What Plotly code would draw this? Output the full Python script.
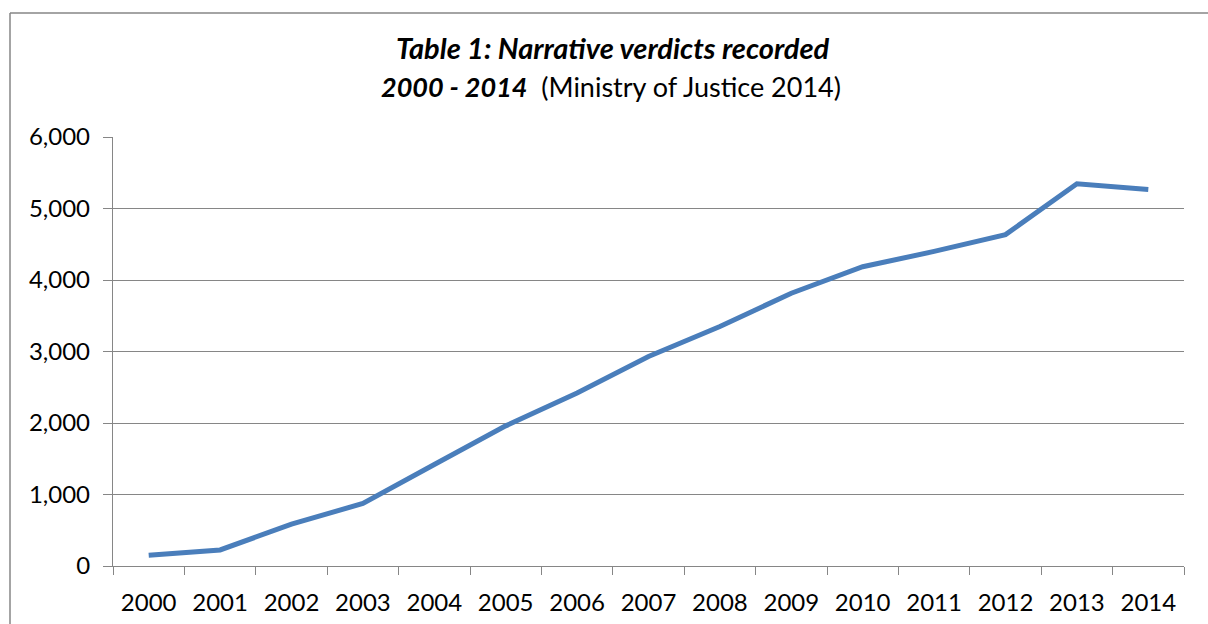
import plotly.graph_objects as go

years = ["2000", "2001", "2002", "2003", "2004", "2005", "2006", "2007",
         "2008", "2009", "2010", "2011", "2012", "2013", "2014"]
verdicts = [150, 225, 585, 875, 1420, 1960, 2420, 2930, 3350, 3815, 4185, 4400, 4635, 5345, 5265]
y_ticks = [0, 1000, 2000, 3000, 4000, 5000, 6000]

W, H = 1208, 624
L, R, T, B = 113, 24, 137, 58
pw, ph = W - L - R, H - T - B


def px_x(px):
    return (px - L) / pw


def px_y(py):
    return (H - B - py) / ph


GRID = "#868686"
FONT = "Lato, 'Open Sans', sans-serif"

fig = go.Figure()
fig.add_trace(go.Scatter(
    x=years, y=verdicts, mode="lines",
    line=dict(color="#4a7ebb", width=5),
    hoverinfo="x+y",
))

fig.update_layout(
    width=W, height=H,
    margin=dict(l=L, r=R, t=T, b=B, autoexpand=False),
    paper_bgcolor="white", plot_bgcolor="white",
    showlegend=False,
    font=dict(family=FONT, color="#000000", size=24),
    xaxis=dict(
        type="category", range=[-0.5, 14.5], automargin=False,
        showgrid=False, showline=True, linecolor=GRID, linewidth=1.3,
        ticks="outside", tickson="boundaries", ticklen=8, tickcolor=GRID, tickwidth=1.3,
        tickfont=dict(size=24, family=FONT), zeroline=False,
        ticklabelstandoff=15,
    ),
    yaxis=dict(
        range=[0, 6000], tickvals=y_ticks, tickformat=",d", automargin=False,
        showgrid=True, gridcolor=GRID, gridwidth=1.3,
        showline=True, linecolor=GRID, linewidth=1.3,
        ticks="outside", ticklen=9, tickcolor=GRID, tickwidth=1.3,
        tickfont=dict(size=24, family=FONT), zeroline=False,
        ticklabelstandoff=8,
    ),
    annotations=[
        dict(
            text="<b><i>Table 1: Narrative verdicts recorded</i></b>",
            xref="paper", yref="paper", x=px_x(613), y=px_y(47),
            xanchor="center", yanchor="middle", showarrow=False,
            font=dict(family=FONT, size=29, color="#000000"),
        ),
        dict(
            text="<b><i>2000 - 2014</i></b>  (Ministry of Justice 2014)",
            xref="paper", yref="paper", x=px_x(611), y=px_y(87),
            xanchor="center", yanchor="middle", showarrow=False,
            font=dict(family=FONT, size=27, color="#000000"),
        ),
    ],
    shapes=[
        dict(type="line", xref="paper", yref="paper",
             x0=px_x(10), x1=px_x(10), y0=px_y(H), y1=px_y(13),
             line=dict(color=GRID, width=1.5), layer="below"),
        dict(type="line", xref="paper", yref="paper",
             x0=px_x(10), x1=px_x(W), y0=px_y(13), y1=px_y(13),
             line=dict(color=GRID, width=1.5), layer="below"),
    ],
)

fig.write_html(
    "out.html",
    config={"displayModeBar": False},
    post_script="document.body.style.margin='0';document.body.style.overflow='hidden';",
)
